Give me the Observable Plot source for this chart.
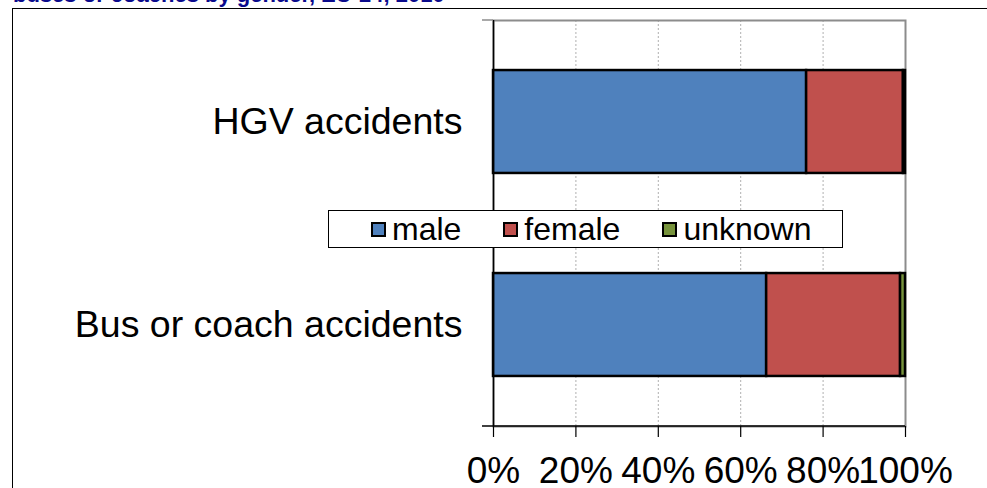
<!DOCTYPE html>
<html><head><meta charset="utf-8">
<script src="https://cdn.jsdelivr.net/npm/d3@7"></script>
<script src="https://cdn.jsdelivr.net/npm/@observablehq/plot@0.6"></script>
<style>
body{margin:0;background:#fff;font-family:"Liberation Sans",Arial,sans-serif;}
#wrap{position:relative;width:987px;height:488px;overflow:hidden;}
#chart{position:absolute;left:0;top:0;}
#border{position:absolute;left:12px;top:8px;width:975px;height:480px;border-top:1px solid #000;border-left:1px solid #000;box-sizing:border-box;pointer-events:none;}
#title{position:absolute;left:13px;top:-16px;font-size:22px;line-height:22px;font-weight:bold;color:#0a0a8c;white-space:nowrap;}
#legend{position:absolute;left:328px;top:210px;width:515px;height:38px;box-sizing:border-box;border:1px solid #000;background:#fff;display:flex;align-items:center;padding-left:42px;gap:42px;font-size:32px;color:#000;}
.item{display:flex;align-items:center;gap:6px;}
.sw{width:15px;height:15px;box-sizing:border-box;border:2px solid #000;}
</style>
</head><body>
<div id="wrap">
  <div id="chart"></div>
  <div id="border"></div>
  <div id="title">buses or coaches by gender, EU-24, 2010</div>
  <div id="legend"></div>
</div>
<script>
const categories = ["HGV accidents", "Bus or coach accidents"];
const genders = ["male", "female", "unknown"];
const hgvShares = [76.0, 23.5, 0.5];
const busShares = [66.3, 32.5, 1.2];
const xTicks = [0, 20, 40, 60, 80, 100];
const colors = ["#4F81BD", "#C0504D", "#77933C"];

const rows = [];
categories.forEach((c, i) => {
  const vals = i === 0 ? hgvShares : busShares;
  genders.forEach((g, j) => rows.push({category: c, gender: g, share: vals[j]}));
});

const plot = Plot.plot({
  width: 987,
  height: 488,
  marginLeft: 493,
  marginRight: 82,
  marginTop: 20,
  marginBottom: 62,
  style: {fontFamily: "Liberation Sans, Arial, sans-serif", background: "transparent", color: "#000"},
  x: {domain: [0, 100], label: null},
  y: {type: "band", domain: categories, paddingInner: 0.493, paddingOuter: 0.2465, round: false, label: null},
  color: {domain: genders, range: colors},
  marks: [
    Plot.gridX(xTicks.slice(1, -1), {stroke: "#b0b0b0", strokeOpacity: 1, strokeDasharray: "2,2"}),
    Plot.frame({stroke: "#8c8c8c", strokeWidth: 2}),
    Plot.barX(rows, Plot.stackX({x: "share", y: "category", fill: "gender", order: genders, stroke: "#000", strokeWidth: 2.5})),
    Plot.ruleX([0], {stroke: "#000", strokeWidth: 1.5}),
    Plot.axisX({ticks: xTicks, anchor: "bottom", tickSize: 11, tickPadding: 19, tickFormat: d => d + "%", fontSize: 37, stroke: "#000", strokeWidth: 1.2, label: null}),
    Plot.axisY({anchor: "left", tickSize: 0, tickPadding: 31, fontSize: 37.5, label: null})
  ]
});
document.getElementById("chart").appendChild(plot);

// category-boundary ticks and bottom axis line from the plot's own scales
const ys = plot.scale("y");
const xs = plot.scale("x");
const svg = d3.select(plot);
const x0 = xs.apply(0), x1 = xs.apply(100);
const half = (ys.step - ys.bandwidth) / 2;
const bounds = [ys.apply(categories[0]) - half].concat(categories.map(c => ys.apply(c) + ys.bandwidth + half));
svg.append("g").selectAll("line").data(bounds).join("line")
  .attr("x1", x0 - 11).attr("x2", x0).attr("y1", d => d).attr("y2", d => d)
  .attr("stroke", (d, i) => i === 0 ? "#8c8c8c" : "#000").attr("stroke-width", 1.5);
svg.append("line").attr("x1", x0).attr("x2", x1)
  .attr("y1", bounds[bounds.length - 1]).attr("y2", bounds[bounds.length - 1])
  .attr("stroke", "#000").attr("stroke-width", 1.5);

// legend
const legend = d3.select("#legend");
genders.forEach((g, i) => {
  const it = legend.append("div").attr("class", "item");
  it.append("div").attr("class", "sw").style("background", colors[i]);
  it.append("span").text(g);
});
</script>
</body></html>
